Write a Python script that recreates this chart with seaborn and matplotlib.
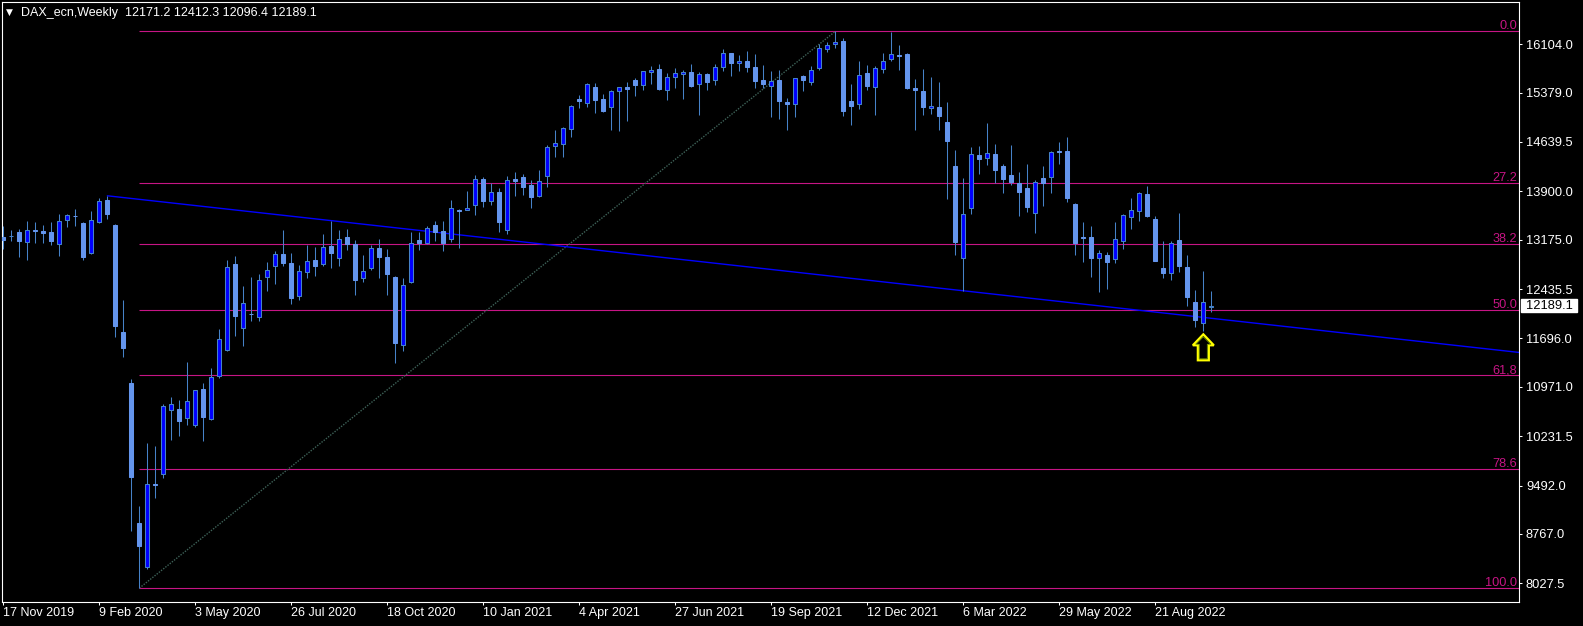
import matplotlib
matplotlib.use("Agg")
import matplotlib.pyplot as plt
import matplotlib.transforms as mtransforms
from matplotlib.patches import Polygon, Rectangle
import numpy as np
import pandas as pd
import seaborn as sns

symbol = "DAX_ecn"
timeframe = "Weekly"
first_week = "2019-11-17"

# weekly OHLC, one value per bar
opens = [
    13213, 13225, 13293, 13148, 13323, 13308, 13293, 13108, 13468, 13530,
    13428, 12973, 13433, 13773, 13398, 11796, 11032, 8935, 8266, 9510,
    9664, 10623, 10638, 10498, 10398, 10938, 10488, 11127, 11516, 12809,
    11851, 12065, 12015, 12615, 12780, 12964, 12824, 12325, 12684, 12874,
    12804, 13084, 12894, 13214, 13104, 12595, 12745, 13054, 12919, 12620,
    11596, 12535, 13174, 13124, 13399, 13309, 13185, 13624, 13614, 13689,
    14088, 13749, 13894, 13314, 14088, 14108, 13989, 13824, 14123, 14577,
    14607, 14832, 15282, 15222, 15466, 15287, 15162, 15401, 15466, 15571,
    15486, 15681, 15736, 15412, 15611, 15651, 15691, 15501, 15661, 15561,
    15756, 15976, 15816, 15856, 15766, 15571, 15476, 15571, 15242, 15207,
    15621, 15536, 15741, 16031, 16101, 16151, 15257, 15207, 15671, 15456,
    15731, 15881, 15946, 15961, 15447, 15407, 15147, 15162, 14942, 14283,
    12895, 13644, 14448, 14393, 14463, 14273, 14148, 14018, 13953, 13568,
    14103, 14108, 14507, 14507, 13713, 13219, 13219, 12899, 12949, 12884,
    13154, 13513, 13598, 13863, 13489, 12754, 12670, 13174, 12770, 12245,
    11921, 12171.2,
]
highs = [
    13383, 13323, 13338, 13458, 13443, 13398, 13443, 13563, 13563, 13638,
    13443, 13608, 13803, 13833, 13413, 12276, 11092, 9190, 10129, 10089,
    10718, 10823, 10778, 11347, 10923, 11033, 11252, 11841, 12874, 12934,
    12485, 12620, 12665, 12844, 12999, 13324, 12974, 12794, 13099, 13059,
    13264, 13448, 13324, 13339, 13174, 12949, 13099, 13189, 13039, 12635,
    12600, 13294, 13284, 13384, 13459, 13459, 13774, 13634, 13909, 14138,
    14108, 14023, 13954, 14123, 14193, 14163, 14073, 14213, 14597, 14812,
    14857, 15197, 15337, 15521, 15521, 15361, 15421, 15461, 15541, 15601,
    15701, 15771, 15811, 15671, 15751, 15721, 15811, 15691, 15671, 15811,
    16036, 15976, 15946, 16001, 15961, 15796, 15706, 15721, 15302, 15601,
    15636, 15781, 16111, 16131, 16297, 16200, 15506, 15851, 15791, 15771,
    15971, 16290, 16096, 15976, 15581, 15731, 15616, 15541, 15242, 14523,
    14098, 14568, 14583, 14927, 14613, 14313, 14597, 14193, 14312, 14073,
    14283, 14507, 14642, 14717, 13728, 13443, 13384, 13024, 12984, 13443,
    13558, 13803, 13893, 13983, 13534, 13159, 13149, 13578, 12949, 12425,
    12710, 12412.3,
]
lows = [
    13043, 13163, 12923, 12873, 13133, 13133, 13103, 12938, 13358, 13373,
    12873, 12963, 13418, 13488, 11711, 11412, 8805, 7955, 8241, 9300,
    9599, 10168, 10228, 10403, 10363, 10153, 10468, 11107, 11501, 11736,
    11576, 11951, 11951, 12400, 12515, 12775, 12205, 12275, 12600, 12625,
    12775, 12745, 12775, 13024, 12340, 12535, 12715, 12595, 12340, 11326,
    11501, 12525, 13025, 13115, 13160, 12999, 13140, 13050, 13614, 13549,
    13659, 13689, 13294, 13259, 13824, 13839, 13644, 13814, 13959, 14408,
    14408, 14707, 15142, 15162, 15067, 15082, 14822, 14807, 14947, 15332,
    15412, 15501, 15412, 15262, 15452, 15287, 15466, 15037, 15412, 15486,
    15696, 15621, 15696, 15681, 15441, 15441, 15007, 14977, 14812, 15007,
    15397, 15487, 15711, 15981, 16051, 15022, 14897, 15137, 15412, 15047,
    15671, 15846, 15711, 15437, 14822, 15047, 15062, 14822, 13789, 12950,
    12410, 13564, 14163, 14288, 14023, 13869, 13988, 13524, 13583, 13269,
    13673, 13868, 14302, 13733, 12939, 12834, 12610, 12385, 12430, 12819,
    13029, 13329, 13449, 13514, 12849, 12595, 12575, 12685, 12175, 11861,
    11801, 12096.4,
]
closes = [
    13175, 13230, 13163, 13318, 13298, 13278, 13163, 13453, 13543, 13525,
    12923, 13468, 13753, 13553, 11876, 11546, 9614, 8580, 9514, 9505,
    10683, 10713, 10453, 10758, 10923, 10513, 11117, 11686, 12764, 12026,
    12225, 12055, 12570, 12720, 12959, 12819, 12295, 12705, 12854, 12784,
    13064, 12969, 13184, 13114, 12565, 12705, 13049, 12909, 12655, 11621,
    12495, 13124, 13129, 13349, 13289, 13124, 13649, 13599, 13649, 14088,
    13759, 13894, 13434, 14068, 14058, 13959, 13809, 14053, 14567, 14622,
    14847, 15177, 15247, 15506, 15262, 15107, 15401, 15461, 15427, 15496,
    15701, 15721, 15436, 15611, 15671, 15691, 15476, 15656, 15541, 15766,
    15976, 15816, 15851, 15756, 15546, 15501, 15551, 15247, 15207, 15601,
    15561, 15721, 16046, 16091, 16136, 15097, 15172, 15641, 15471, 15746,
    15851, 15961, 15926, 15451, 15412, 15157, 15182, 15022, 14647, 13135,
    13559, 14458, 14378, 14473, 14213, 14088, 14043, 13883, 13668, 14043,
    14023, 14492, 14482, 13793, 13129, 13194, 12894, 12979, 12834, 13189,
    13543, 13618, 13873, 13524, 12859, 12670, 13124, 12775, 12310, 11966,
    12240, 12189.1,
]

price_ticks = [16104.0, 15379.0, 14639.5, 13900.0, 13175.0, 12435.5,
               11696.0, 10971.0, 10231.5, 9492.0, 8767.0, 8027.5]

fib_levels = [0.0, 27.2, 38.2, 50.0, 61.8, 78.6, 100.0]
fib_labels = ["0.0", "27.2", "38.2", "50.0", "61,8", "78.6", "100.0"]
fib_low_bar = 17      # Mar 2020 low
fib_high_bar = 104    # Nov 2021 high
trend_high_bar = 13   # Feb 2020 high
trend_low_bar = 120   # Mar 2022 low
arrow_bar = 150
arrow_price = 11758

BULL = "#0000FF"
BEAR = "#6495ED"
WICK = "#4682C8"
FIB = "#C71585"
TREND = "#0000FF"
DIAG = "#3E6258"

sns.set_style("dark", {
    "axes.facecolor": "black",
    "figure.facecolor": "black",
    "axes.edgecolor": "white",
    "axes.grid": False,
    "text.color": "white",
    "xtick.color": "white",
    "ytick.color": "white",
})
plt.rcParams["font.family"] = ["Liberation Sans", "DejaVu Sans"]

df = pd.DataFrame({
    "date": pd.date_range(first_week, periods=len(opens), freq="7D"),
    "open": opens, "high": highs, "low": lows, "close": closes,
})
df["bar"] = np.arange(len(df))
df["bull"] = df["close"] >= df["open"]

W, H = 1583, 626
fig = plt.figure(figsize=(W / 100, H / 100), dpi=100)
left, right, top, bottom = 2, 1519.3, 2, 602.3
ax = fig.add_axes([left / W, (H - bottom) / H, (right - left) / W, (bottom - top) / H])

# 8 px per bar, bar 0 centred at x=3.33 px
x_lo = (left - 3.33) / 8
x_hi = (right - 3.33) / 8
ax.set_xlim(x_lo, x_hi)
pts_per_px = (16104.0 - 8027.5) / (583.3 - 44.2)
ax.set_ylim(8027.5 - (bottom - 583.3) * pts_per_px, 16104.0 + (44.2 - top) * pts_per_px)

# fibonacci retracement
lo = df.loc[fib_low_bar, "low"]
hi = df.loc[fib_high_bar, "high"]
fib_prices = [hi - lv / 100 * (hi - lo) for lv in fib_levels]
ax.hlines(fib_prices, fib_low_bar, x_hi, color=FIB, lw=0.8, zorder=1)
for p, lab in zip(fib_prices, fib_labels):
    ax.annotate(lab, xy=(1, p), xycoords=("axes fraction", "data"),
                xytext=(-1.5, 1.6), textcoords="offset points",
                ha="right", va="baseline", color=FIB, fontsize=9.2)
sns.lineplot(x=[fib_low_bar, fib_high_bar], y=[lo, hi], ax=ax, color=DIAG,
             lw=1.0, linestyle=(0, (1, 1)), zorder=1)

# trend line (ray)
p1 = df.loc[trend_high_bar, "high"]
p2 = df.loc[trend_low_bar, "low"]
slope = (p2 - p1) / (trend_low_bar - trend_high_bar)
sns.lineplot(x=[trend_high_bar, x_hi], y=[p1, p1 + slope * (x_hi - trend_high_bar)],
             ax=ax, color=TREND, lw=1.0, zorder=2)

# candles
ax.vlines(df["bar"], df["low"], df["high"], color=WICK, lw=0.75, zorder=3)
body_lo = df[["open", "close"]].min(axis=1)
body_h = (df["close"] - df["open"]).abs()
up = df["bull"]
ax.bar(df["bar"][up], body_h[up], bottom=body_lo[up], width=0.5,
       color=BULL, edgecolor=WICK, linewidth=0.75, zorder=4)
ax.bar(df["bar"][~up], body_h[~up], bottom=body_lo[~up], width=0.5,
       color=BEAR, edgecolor=BEAR, linewidth=0.75, zorder=4)

# yellow marker arrow under the bar
arrow_px = [(0, 0), (10.5, 11), (5.5, 11), (5.5, 26), (-5.5, 26), (-5.5, 11), (-10.5, 11)]
atrans = mtransforms.Affine2D().scale(1, -1) + \
    mtransforms.ScaledTranslation(arrow_bar, arrow_price, ax.transData)
ax.add_patch(Polygon(arrow_px, closed=True, fill=False, ec="#FFFF00", lw=1.6,
                     joinstyle="miter", transform=atrans, zorder=6))
inner = [(0, 2.5), (7.5, 10), (4, 10), (4, 24.5), (-4, 24.5), (-4, 10), (-7.5, 10)]
ax.add_patch(Polygon(inner, closed=True, fill=False, ec="#7A9A00", lw=0.6,
                     transform=atrans, zorder=6))

# axes, ticks
for s in ax.spines.values():
    s.set_color("white")
    s.set_linewidth(0.8)
ax.yaxis.tick_right()
ax.set_yticks(price_ticks)
ax.set_yticklabels([f"{v:.1f}" for v in price_ticks])
xt = df["bar"][::12]
ax.set_xticks(xt)
ax.set_xticklabels([f"{d.day} {d.strftime('%b %Y')}" for d in df["date"][::12]], ha="left")
ax.tick_params(axis="x", bottom=True, length=2.5, width=0.75, pad=0.8,
               labelsize=9, colors="white", direction="out")
ax.tick_params(axis="y", right=True, left=False, length=2.2, width=0.75, pad=2.6,
               labelsize=9.3, colors="white", direction="out")
ax.set_xlabel("")
ax.set_ylabel("")

# current price marker on the price scale
last = df.iloc[-1]
box_h = 13 * pts_per_px
ax.add_patch(Rectangle((1 + 1.7 / (right - left), last["close"] - box_h / 2),
                       56 / (right - left), box_h,
                       transform=mtransforms.blended_transform_factory(ax.transAxes, ax.transData),
                       fc="white", ec="white", clip_on=False, zorder=7))
ax.annotate(f"{last['close']:.1f}", xy=(1, last["close"]), xycoords=("axes fraction", "data"),
            xytext=(4.8, 0), textcoords="offset points", ha="left", va="center",
            color="black", fontsize=9.3, zorder=8, annotation_clip=False)

# header
fig.text(6 / W, 1 - 12.5 / H, "\u25bc", fontsize=6.5, color="white", va="center",
         family=["DejaVu Sans"])
fig.text(21 / W, 1 - 13.3 / H,
         f"{symbol},{timeframe}  {last['open']:.1f} {last['high']:.1f} {last['low']:.1f} {last['close']:.1f}",
         fontsize=9, color="white", va="center")

fig.savefig("out.png", dpi=100, facecolor="black")
